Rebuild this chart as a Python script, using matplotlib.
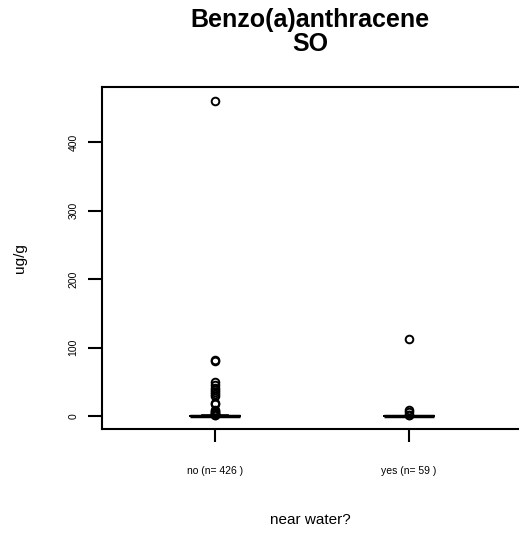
import matplotlib
matplotlib.use("Agg")
import matplotlib.pyplot as plt

plt.rcParams['font.family'] = ['Liberation Sans', 'DejaVu Sans']

# groups and summary values (ug/g)
groups = ["no", "yes"]
counts = [426, 59]
medians = [0.3, 0.2]
q1s = [0.05, 0.0]
q3s = [0.7, 0.5]
whis_lo = [0.0, 0.0]
whis_hi = [1.5, 1.2]
fliers_no = [460, 82, 80, 50, 46, 42, 38, 35, 32, 29, 20, 18, 10, 8, 6, 5, 4, 3, 2.5, 2]
fliers_yes = [113, 10, 6, 2, 1.5]
fliers = [fliers_no, fliers_yes]

stats = []
for i in range(len(groups)):
    stats.append(dict(med=medians[i], q1=q1s[i], q3=q3s[i],
                      whislo=whis_lo[i], whishi=whis_hi[i], fliers=fliers[i]))

fig = plt.figure(figsize=(5.19, 5.35), dpi=100)
# axes runs past the right edge, like the reference
ax = fig.add_axes([102/519, 1 - 429/535, 430/519, (429-87)/535])

ax.bxp(stats, positions=[1, 2], widths=0.26,
       boxprops=dict(color='black', linewidth=1.2),
       medianprops=dict(color='black', linewidth=2.5),
       whiskerprops=dict(color='black', linewidth=1.2, linestyle='--'),
       capprops=dict(color='black', linewidth=1.2),
       flierprops=dict(marker='o', markerfacecolor='none', markeredgecolor='black',
                       markersize=5.5, markeredgewidth=1.4))

ax.set_xlim(0.418, 0.418 + 430/194)
ax.set_ylim(-18.4, 480)
ax.set_yticks([0, 100, 200, 300, 400])
ax.set_yticklabels(['0', '100', '200', '300', '400'], rotation=90, va='center', fontsize=7.5)
ax.set_xticks([1, 2])
ax.set_xticklabels([f"{g} (n= {n} )" for g, n in zip(groups, counts)], fontsize=7.5)
ax.tick_params(axis='y', length=10, width=1.5, pad=7)
ax.tick_params(axis='x', length=9.5, width=1.5, pad=17)
for s in ax.spines.values():
    s.set_linewidth(1.5)

ax.set_ylabel("ug/g", fontsize=11, va='center')
ax.yaxis.set_label_coords(20/519, 1 - 258/535, transform=fig.transFigure)
ax.set_xlabel("near water?", fontsize=11, va='center')
ax.xaxis.set_label_coords(310/519, 1 - 520/535, transform=fig.transFigure)
fig.text(310/519, 1 - 32/535, "Benzo(a)anthracene\nSO", ha='center', va='center',
         fontsize=18, fontweight='bold', linespacing=1.0)

fig.savefig("out.png", dpi=100)
